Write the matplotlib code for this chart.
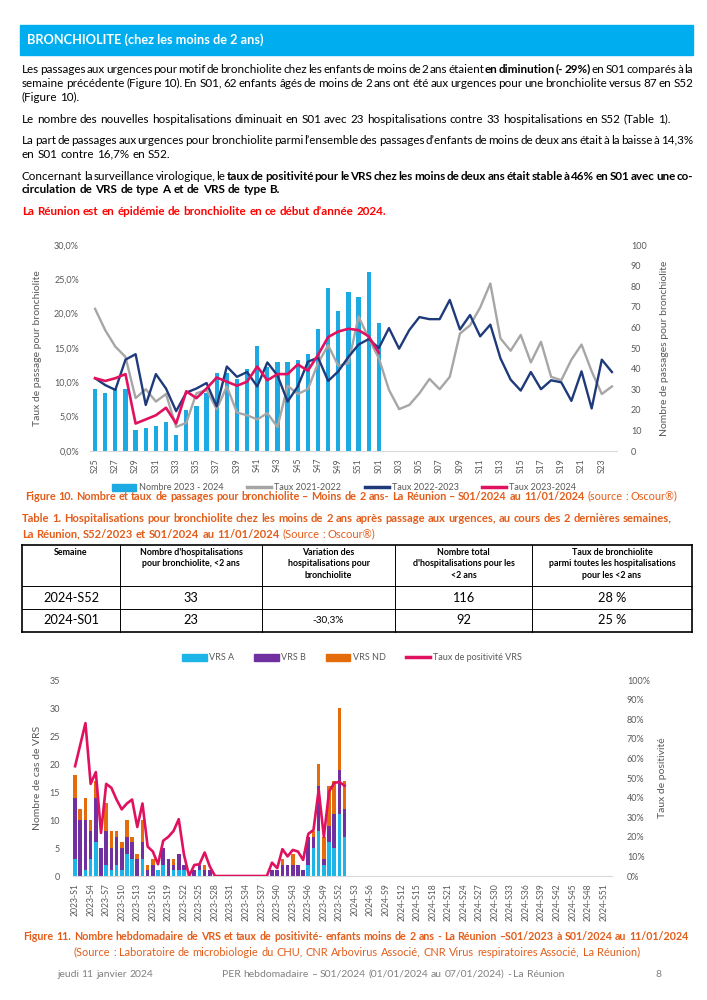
import matplotlib
matplotlib.use('Agg')
import matplotlib.pyplot as plt
from matplotlib.patches import Rectangle, Patch
from matplotlib.lines import Line2D
from matplotlib.ticker import FuncFormatter, MultipleLocator
from matplotlib.backends.backend_agg import get_hinting_flag

plt.rcParams['font.family'] = ['Lato', 'DejaVu Sans']

# ---- data: Figure 10 (passages bronchiolite, moins de 2 ans) ----
semaines1 = ['S%02d' % w for w in range(25, 53)] + ['S%02d' % w for w in range(1, 25)]

nombre_2324 = [30, 28, 30, 30, 10, 11, 12, 14, 8, 20, 22, 28, 38, 38, 35, 40, 51, 41,
               43, 43, 44, 47, 59, 79, 68, 77, 75, 87, 62]

taux_2122 = [20.7, 17.6, 15.2, 13.7, 7.7, 9.0, 7.2, 8.3, 3.5, 4.1, 8.4, 8.9, 6.1, 9.4,
             5.6, 5.2, 4.6, 5.5, 3.5, 9.5, 8.3, 9.0, 12.8, 15.4, 12.4, 12.8, 19.6, 16.4,
             13.5, 8.9, 6.1, 6.7, 8.4, 10.5, 9.0, 10.8, 17.1, 18.3, 20.9, 24.4, 16.4, 14.6,
             16.9, 12.9, 15.9, 10.8, 10.3, 13.3, 15.5, 11.6, 8.3, 9.4]

taux_2223 = [10.6, 9.6, 8.9, 13.3, 14.1, 6.7, 11.2, 9.1, 5.8, 8.5, 9.1, 9.9, 6.5, 12.3,
             10.8, 11.5, 9.4, 12.9, 11.0, 7.2, 9.4, 13.0, 13.6, 10.2, 11.6, 13.7, 15.5, 16.3,
             15.0, 17.9, 14.9, 17.6, 19.5, 19.2, 19.2, 22.0, 17.7, 19.8, 16.7, 18.4, 13.5, 10.4,
             8.8, 11.5, 9.0, 10.3, 10.0, 7.3, 11.6, 6.2, 13.3, 11.5]

taux_2324 = [10.6, 10.2, 10.6, 11.2, 4.0, 4.6, 5.2, 6.3, 4.0, 8.7, 7.7, 9.1, 10.7, 10.1,
             9.5, 10.1, 12.3, 10.3, 11.2, 11.2, 12.6, 11.7, 14.0, 16.6, 17.4, 17.8, 17.6, 16.7,
             14.3]

# ---- data: Table 1 ----
table_header = ["Semaine",
                "Nombre d'hospitalisations\npour bronchiolite, <2 ans",
                "Variation des\nhospitalisations pour\nbronchiolite",
                "Nombre total\nd'hospitalisations pour les\n<2 ans",
                "Taux de bronchiolite\nparmi toutes les hospitalisations\npour les <2 ans"]
table_rows = [["2024-S52", "33", "", "116", "28 %"],
              ["2024-S01", "23", "-30,3%", "92", "25 %"]]

# ---- data: Figure 11 (VRS) ----
semaines2 = ['2023-S%d' % w for w in range(1, 53)] + ['2024-S%d' % w for w in range(1, 53)]

vrs_a = [3, 0, 1, 3, 6, 0, 2, 1, 2, 1, 4, 3, 0, 3, 0, 0, 1, 2, 0, 1, 1, 1, 0, 0, 1, 0, 0,
         0, 0, 0, 0, 0, 0, 0, 0, 0, 0, 0, 0, 0, 0, 0, 0, 0, 0, 2, 5, 8, 2, 6, 5, 11, 7]
vrs_b = [11, 10, 9, 5, 8, 5, 6, 4, 5, 4, 3, 3, 3, 3, 1, 2, 0, 3, 3, 1, 3, 1, 0, 1, 1, 1, 1,
         0, 0, 0, 0, 0, 0, 0, 0, 0, 0, 0, 1, 1, 2, 2, 2, 2, 1, 5, 2, 8, 1, 3, 6, 8, 5]
vrs_nd = [4, 2, 4, 2, 3, 0, 5, 3, 1, 1, 3, 1, 1, 4, 1, 1, 0, 0, 0, 1, 0, 0, 0, 0, 0, 1, 0,
          0, 0, 0, 0, 0, 0, 0, 0, 0, 0, 0, 0, 0, 1, 0, 2, 0, 0, 0, 1, 4, 4, 7, 6, 11, 5]
positivite = [56, 67, 78, 47, 53, 22, 47, 45, 39, 34, 37, 39, 25, 37, 15, 12.5, 6, 18, 20, 23,
              29, 11, 0, 5.6, 6, 12, 4.8, 0, 0, 0, 0, 0, 0, 0, 0, 0, 0, 0, 6.8, 4,
              13.7, 10, 13.3, 12.5, 8.2, 21.5, 23.5, 44, 20, 43, 47.5, 48, 46]

# colours
CYAN = '#00AEEF'
BAR1 = '#1DA9E1'
GRIS = '#A6A6A6'
NAVY = '#1F3A7A'
ROUGE = '#E0115F'
VRSA = '#1DB5E8'
VRSB = '#7030A0'
VRSND = '#E46C0A'
CAPT = '#E35D1A'
TICK = '#595959'

W, H = 707, 1000
fig = plt.figure(figsize=(W / 100, H / 100), dpi=100)
renderer = fig.canvas.get_renderer()


def fx(x):
    return x / W


def fy(y):
    return 1 - y / H


def baseline_y(t, T):
    # agg rounds each text bitmap on its own, so words with different
    # descents drift by a pixel; work out where to anchor so the glyph
    # baseline lands on row T
    try:
        font = renderer._prepare_font(t.get_fontproperties())
        font.set_text(t.get_text(), 0, flags=get_hinting_flag())
        _, h64 = font.get_width_height()
        d64 = font.get_descent()
        return T + h64 // 64 - int((h64 - d64) / 64) - d64 / 64
    except Exception:
        return T


def text_line(y, segments, x0=22, x1=693, size=8.4, align='left'):
    # segments: (texte, gras, couleur); y is the baseline in pixels
    items = []
    for txt, bold, color in segments:
        for w in txt.split():
            t = fig.text(0, fy(y), w, fontsize=size, color=color, va='baseline',
                         fontweight='bold' if bold else 'normal')
            t.set_y(fy(baseline_y(t, y)))
            items.append((t, t.get_window_extent(renderer).width))
    a = fig.text(0, 0, 'x x', fontsize=size)
    b = fig.text(0, 0, 'xx', fontsize=size)
    space = a.get_window_extent(renderer).width - b.get_window_extent(renderer).width
    a.remove()
    b.remove()
    total = sum(w for _, w in items)
    n = len(items)
    gap = space
    start = x0
    if align == 'justify' and n > 1:
        gap = (x1 - x0 - total) / (n - 1)
    elif align == 'center':
        start = x0 - (total + space * (n - 1)) / 2
    x = start
    for t, w in items:
        t.set_x(fx(x))
        x += w + gap


# ---- header ----
fig.patches.append(Rectangle((fx(20), fy(55)), (693 - 20) / W, 30 / H, color=CYAN,
                             transform=fig.transFigure))
fig.text(fx(27), fy(44), 'BRONCHIOLITE (chez les moins de 2 ans)', color='white',
         fontsize=9.2, fontweight='bold', va='baseline')

K = 'black'
text_line(73, [("Les passages aux urgences pour motif de bronchiolite chez les enfants de moins de 2 ans étaient", False, K),
               ("en diminution (- 29%)", True, K), ("en S01 comparés à la", False, K)], align='justify')
text_line(87, [("semaine précédente (Figure 10). En S01, 62 enfants âgés de moins de 2 ans ont été aux urgences pour une bronchiolite versus 87 en S52", False, K)], align='justify')
text_line(101, [("(Figure 10).", False, K)])
text_line(123, [("Le nombre des nouvelles hospitalisations diminuait en S01 avec 23 hospitalisations contre 33 hospitalisations en S52 (Table 1).", False, K)])
text_line(144, [("La part de passages aux urgences pour bronchiolite parmi l’ensemble des passages d’enfants de moins de deux ans était à la baisse à 14,3%", False, K)], align='justify')
text_line(158, [("en S01 contre 16,7% en S52.", False, K)])
text_line(180, [("Concernant la surveillance virologique, le", False, K),
                ("taux de positivité pour le VRS chez les moins de deux ans était stable à 46% en S01 avec une co-", True, K)], align='justify')
text_line(193, [("circulation de VRS de type A et de VRS de type B.", True, K)])
text_line(215, [("La Réunion est en épidémie de bronchiolite en ce début d’année 2024.", True, '#FF0000')])

# ---- Figure 10 ----
ax1 = fig.add_axes([fx(90), fy(451), (617 - 90) / W, (451 - 245) / H])
ax1r = ax1.twinx()
ax1r.bar(range(len(nombre_2324)), nombre_2324, width=0.42, color=BAR1)
ax1.plot(range(len(taux_2122)), taux_2122, color=GRIS, lw=1.7)
ax1.plot(range(len(taux_2223)), taux_2223, color=NAVY, lw=1.7)
ax1.plot(range(len(taux_2324)), taux_2324, color=ROUGE, lw=1.9)
ax1.set_zorder(ax1r.get_zorder() + 1)
ax1.patch.set_visible(False)
ax1.set_xlim(-0.5, 51.5)
ax1.set_ylim(0, 30)
ax1r.set_ylim(0, 100)
ax1.yaxis.set_major_locator(MultipleLocator(5))
ax1.yaxis.set_major_formatter(FuncFormatter(lambda v, p: ('%.1f%%' % v).replace('.', ',')))
ax1r.yaxis.set_major_locator(MultipleLocator(10))
ax1.set_xticks(range(0, 52, 2))
ax1.set_xticklabels(semaines1[::2], rotation=90)
ax1.set_ylabel('Taux de passage pour bronchiolite', fontsize=7.5, color=TICK)
ax1.yaxis.set_label_coords(-0.092, 0.5)
ax1r.set_ylabel('Nombre de passages pour bronchiolite', fontsize=7.5, color=TICK)
ax1r.yaxis.set_label_coords(1.082, 0.5)

# ---- Figure 11 ----
ax2 = fig.add_axes([fx(72.5), fy(876), (611.5 - 72.5) / W, (876 - 680) / H])
ax2r = ax2.twinx()
xs = range(len(vrs_a))
ab = [a + b for a, b in zip(vrs_a, vrs_b)]
ax2.bar(xs, vrs_a, width=0.7, color=VRSA)
ax2.bar(xs, vrs_b, bottom=vrs_a, width=0.7, color=VRSB)
ax2.bar(xs, vrs_nd, bottom=ab, width=0.7, color=VRSND)
ax2r.plot(range(len(positivite)), [p / 100 for p in positivite], color=ROUGE, lw=1.9)
ax2.set_xlim(-0.5, len(semaines2) - 0.5)
ax2.set_ylim(0, 35)
ax2r.set_ylim(0, 1)
ax2.yaxis.set_major_locator(MultipleLocator(5))
ax2r.yaxis.set_major_locator(MultipleLocator(0.1))
ax2r.yaxis.set_major_formatter(FuncFormatter(lambda v, p: '%d%%' % round(v * 100)))
ax2.set_xticks(range(0, len(semaines2), 3))
ax2.set_xticklabels(semaines2[::3], rotation=90)
ax2.set_ylabel('Nombre de cas de VRS', fontsize=7.5, color=TICK)
ax2.yaxis.set_label_coords(-0.057, 0.5)
ax2r.set_ylabel('Taux de positivité', fontsize=7.5, color=TICK)
ax2r.yaxis.set_label_coords(1.086, 0.5)

for ax in (ax1, ax1r, ax2, ax2r):
    for s in ('top', 'left', 'right'):
        ax.spines[s].set_visible(False)
    ax.spines['bottom'].set_color('#D9D9D9')
    ax.tick_params(length=0, labelsize=6.5, labelcolor=TICK)
ax1r.spines['bottom'].set_visible(False)
ax2r.spines['bottom'].set_visible(False)
ax1.tick_params(axis='y', pad=8)
ax1r.tick_params(axis='y', pad=10)
ax1.tick_params(axis='x', pad=5, labelsize=6.2)
ax2.tick_params(axis='y', pad=9)
ax2r.tick_params(axis='y', pad=11)
ax2.tick_params(axis='x', pad=5, labelsize=6.2)

h1 = [Patch(color=BAR1), Line2D([], [], color=GRIS, lw=2.5),
      Line2D([], [], color=NAVY, lw=2.5), Line2D([], [], color=ROUGE, lw=2.5)]
fig.legend(h1, ['Nombre 2023 - 2024', 'Taux 2021-2022', 'Taux 2022-2023', 'Taux 2023-2024'],
           loc='center', bbox_to_anchor=(fx(344), fy(488)), ncol=4, frameon=False,
           fontsize=6.5, handlelength=2.7, handletextpad=0.3, columnspacing=2.6,
           labelcolor=TICK)
h2 = [Patch(color=VRSA), Patch(color=VRSB), Patch(color=VRSND),
      Line2D([], [], color=ROUGE, lw=2.5)]
fig.legend(h2, ['VRS A', 'VRS B', 'VRS ND', 'Taux de positivité VRS'],
           loc='center', bbox_to_anchor=(fx(352), fy(658)), ncol=4, frameon=False,
           fontsize=6.5, handlelength=2.7, handletextpad=0.3, columnspacing=2.2,
           labelcolor=TICK)

# ---- captions ----
text_line(500, [("Figure 10. Nombre et taux de passages pour bronchiolite – Moins de 2 ans- La Réunion – S01/2024 au 11/01/2024", True, CAPT),
                ("(source : Oscour®)", False, CAPT)], x0=351, size=7.85, align='center')
text_line(522, [("Table 1. Hospitalisations pour bronchiolite chez les moins de 2 ans après passage aux urgences, au cours des 2 dernières semaines,", True, CAPT)], size=8)
text_line(538, [("La Réunion, S52/2023 et S01/2024 au 11/01/2024", True, CAPT),
                ("(Source : Oscour®)", False, CAPT)], size=8)

# ---- table ----
cols = [22, 120, 262, 395, 532, 692]
rows = [545, 586, 609, 632]
for i, xc in enumerate(cols):
    lw = 1.2 if i in (0, len(cols) - 1) else 0.7
    fig.add_artist(Line2D([fx(xc), fx(xc)], [fy(rows[0]), fy(rows[-1])], color='black',
                          lw=lw, transform=fig.transFigure))
for i, yr in enumerate(rows):
    lw = 1.2 if i in (0, len(rows) - 1) else 0.7
    fig.add_artist(Line2D([fx(cols[0]), fx(cols[-1])], [fy(yr), fy(yr)], color='black',
                          lw=lw, transform=fig.transFigure))
for j, lab in enumerate(table_header):
    fig.text(fx((cols[j] + cols[j + 1]) / 2), fy(548), lab, ha='center', va='top',
             fontsize=6.4, fontweight='bold', linespacing=1.35)
for i, row in enumerate(table_rows):
    yc = (rows[i + 1] + rows[i + 2]) / 2
    for j, val in enumerate(row):
        fig.text(fx((cols[j] + cols[j + 1]) / 2), fy(yc), val, ha='center', va='center',
                 fontsize=7.2 if '%' in val and ',' in val else 9.2)

text_line(940, [("Figure 11. Nombre hebdomadaire de VRS et taux de positivité- enfants moins de 2 ans - La Réunion –S01/2023 à S01/2024 au 11/01/2024", True, CAPT)],
          x0=356, size=7.7, align='center')
text_line(956, [("(Source : Laboratoire de microbiologie du CHU, CNR Arbovirus Associé, CNR Virus respiratoires Associé, La Réunion)", False, CAPT)],
          x0=357, size=7.9, align='center')

# ---- footer ----
text_line(977, [("jeudi 11 janvier 2024", False, '#808080')], x0=57, size=7.5)
text_line(977, [("PER hebdomadaire – S01/2024 (01/01/2024 au 07/01/2024) - La Réunion", False, '#808080')], x0=222, size=7.5)
text_line(977, [("8", False, '#808080')], x0=656, size=7.5)

fig.savefig('out.png', dpi=100)
